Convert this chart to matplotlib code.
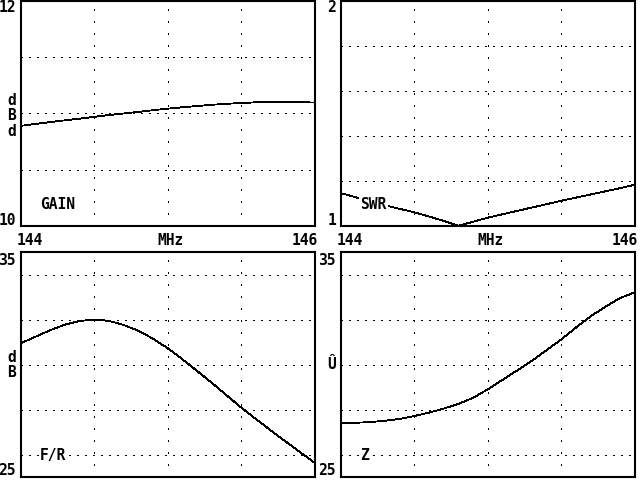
import matplotlib
matplotlib.use("Agg")
import matplotlib.pyplot as plt

# ---------------- data ----------------
freq = [144.0, 144.1, 144.2, 144.3, 144.4, 144.5, 144.6, 144.7, 144.8, 144.9, 145.0,
        145.1, 145.2, 145.3, 145.4, 145.5, 145.6, 145.7, 145.8, 145.9, 146.0]
gain = [10.888, 10.905, 10.921, 10.937, 10.952, 10.968, 10.984, 10.998, 11.012, 11.027, 11.041,
        11.053, 11.064, 11.075, 11.084, 11.091, 11.097, 11.099, 11.100, 11.098, 11.095]
swr = [1.146, 1.128, 1.110, 1.092, 1.076, 1.061, 1.042, 1.023, 1.001, 1.019, 1.037,
       1.052, 1.067, 1.082, 1.097, 1.112, 1.126, 1.140, 1.154, 1.168, 1.183]
fr = [30.94, 31.23, 31.52, 31.77, 31.93, 32.00, 31.94, 31.76, 31.50, 31.15, 30.72,
      30.23, 29.71, 29.18, 28.63, 28.08, 27.57, 27.07, 26.58, 26.10, 25.62]
z = [27.39, 27.41, 27.44, 27.50, 27.58, 27.71, 27.86, 28.04, 28.25, 28.52, 28.90,
     29.32, 29.74, 30.17, 30.64, 31.12, 31.65, 32.15, 32.57, 32.96, 33.21]

x_range = (144, 146)
x_grid = [144.5, 145.0, 145.5]
gain_range = (10, 12)
gain_grid = [10.5, 11.0, 11.5]
swr_range = (1, 2)
swr_grid = [1.2, 1.4, 1.6, 1.8]
fr_range = (25, 35)
fr_grid = [26, 28, 30, 32, 34]
z_range = (25, 35)
z_grid = [26, 28, 30, 32, 34]

# ---------------- layout ----------------
W, H = 640, 480
fig = plt.figure(figsize=(6.4, 4.8), dpi=100)
fig.patch.set_facecolor("white")

FONT = dict(family="DejaVu Sans Mono", fontsize=10.5, fontweight="bold", color="black")


def ax_px(x0, y0, x1, y1):
    return fig.add_axes([x0 / W, 1 - y1 / H, (x1 - x0) / W, (y1 - y0) / H])


def txt(px, py, s, ha="left", bg=False):
    kw = dict(FONT)
    if bg:
        kw["bbox"] = dict(facecolor="white", edgecolor="none", pad=1.0)
    fig.text(px / W, 1 - py / H, s, ha=ha, va="baseline", zorder=5, **kw)


def setup(ax, yr, yg, xs, ys):
    ax.set_xlim(*x_range)
    ax.set_ylim(*yr)
    ax.set_xticks(x_grid)
    ax.set_yticks(yg)
    ax.tick_params(length=0, labelbottom=False, labelleft=False)
    for sp in ax.spines.values():
        sp.set_linewidth(1.5)
        sp.set_color("black")
    ax.grid(False)
    for g in x_grid:
        ax.axvline(g, color="black", lw=0.75, ls=(0, (1.4, 9.9)), zorder=1,
                   antialiased=False)
    for g in yg:
        ax.axhline(g, color="black", lw=0.75, ls=(0, (1.4, 5.9)), zorder=1,
                   antialiased=False)
    ax.plot(xs, ys, color="black", lw=0.6, zorder=3, antialiased=False)


L0, L1 = 20.5, 315.0
R0, R1 = 340.7, 635.0
T0, T1 = 0.5, 226.0
B0, B1 = 252.0, 477.0

ax1 = ax_px(L0, T0, L1, T1)
setup(ax1, gain_range, gain_grid, freq, gain)
ax2 = ax_px(R0, T0, R1, T1)
setup(ax2, swr_range, swr_grid, freq, swr)
ax3 = ax_px(L0, B0, L1, B1)
setup(ax3, fr_range, fr_grid, freq, fr)
ax4 = ax_px(R0, B0, R1, B1)
setup(ax4, z_range, z_grid, freq, z)

# ---------------- text ----------------
# top-left GAIN
txt(16, 12, "12", ha="right")
txt(16, 225, "10", ha="right")
txt(11.5, 105, "d", ha="center")
txt(11.5, 120, "B", ha="center")
txt(11.5, 136, "d", ha="center")
txt(17, 245, "144")
txt(171, 245, "MHz", ha="center")
txt(318, 245, "146", ha="right")
txt(40, 209, "GAIN", bg=True)

# top-right SWR
txt(336, 12, "2", ha="right")
txt(336, 225, "1", ha="right")
txt(337, 245, "144")
txt(491, 245, "MHz", ha="center")
txt(638, 245, "146", ha="right")
txt(360, 209, "SWR", bg=True)

# bottom-left F/R
txt(16, 265, "35", ha="right")
txt(16, 475, "25", ha="right")
txt(11.5, 362, "d", ha="center")
txt(11.5, 377, "B", ha="center")
txt(40, 460, "F/R", bg=True)

# bottom-right Z
txt(336, 265, "35", ha="right")
txt(336, 475, "25", ha="right")
txt(331.5, 369, "Û", ha="center")
txt(360, 460, "Z", bg=True)

fig.savefig("out.png", dpi=100, facecolor="white")
